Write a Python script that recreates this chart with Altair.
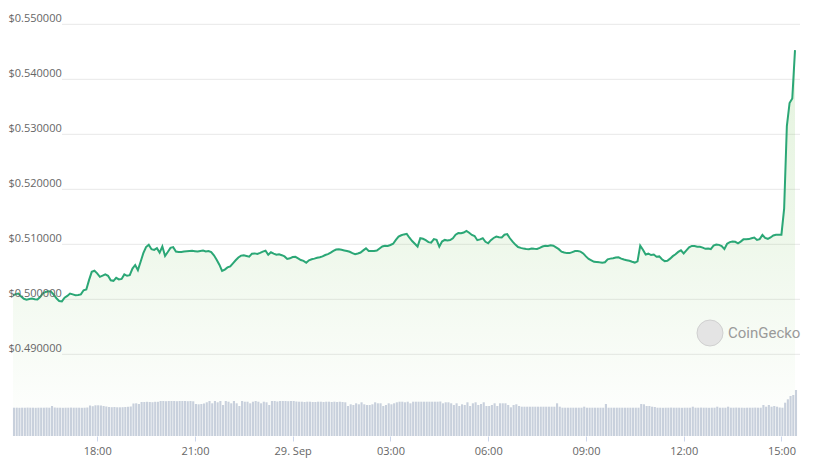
import altair as alt
import pandas as pd

# ---------------- data ----------------
START = "2023-09-28 15:25:00"   # first sample (UTC), 5-minute steps
STEP_MINUTES = 5

price = [
    0.50073, 0.50095, 0.50105, 0.50050, 0.50010, 0.49994, 0.50005, 0.50013, 0.50000, 0.49998,
    0.50042, 0.50110, 0.50134, 0.50147, 0.50140, 0.50085, 0.50020, 0.49970, 0.49963, 0.50030,
    0.50061, 0.50105, 0.50090, 0.50075, 0.50080, 0.50090, 0.50165, 0.50178, 0.50349, 0.50500,
    0.50519, 0.50472, 0.50409, 0.50430, 0.50455, 0.50428, 0.50345, 0.50336, 0.50391, 0.50361,
    0.50370, 0.50453, 0.50428, 0.50440, 0.50560, 0.50624, 0.50530, 0.50684, 0.50839, 0.50950,
    0.50991, 0.50912, 0.50899, 0.50930, 0.50850, 0.50960, 0.50789, 0.50860, 0.50935, 0.50949,
    0.50868, 0.50860, 0.50862, 0.50870, 0.50875, 0.50878, 0.50881, 0.50875, 0.50868, 0.50880,
    0.50886,
    0.50870, 0.50877, 0.50860, 0.50800, 0.50720, 0.50630, 0.50515, 0.50540, 0.50580, 0.50600,
    0.50655, 0.50710, 0.50760, 0.50795, 0.50800, 0.50788, 0.50775, 0.50830, 0.50835, 0.50825,
    0.50845, 0.50868, 0.50883, 0.50810, 0.50855, 0.50830, 0.50810, 0.50820, 0.50802, 0.50780,
    0.50735, 0.50745, 0.50768, 0.50772, 0.50745, 0.50715, 0.50700, 0.50665, 0.50710, 0.50728,
    0.50740, 0.50755, 0.50765, 0.50780, 0.50805, 0.50821, 0.50848, 0.50880, 0.50905, 0.50912,
    0.50900, 0.50889, 0.50878, 0.50865, 0.50840, 0.50822, 0.50833, 0.50850, 0.50890, 0.50926,
    0.50880, 0.50877, 0.50877, 0.50888, 0.50925, 0.50960, 0.50972, 0.50970, 0.50988, 0.51010,
    0.51080, 0.51140, 0.51165, 0.51180, 0.51190, 0.51120, 0.51060, 0.51010, 0.50960, 0.51110,
    0.51100, 0.51075, 0.51040, 0.51030, 0.51095, 0.51080, 0.50957, 0.51050, 0.51080, 0.51070,
    0.51078, 0.51110, 0.51175, 0.51204, 0.51200, 0.51215, 0.51245, 0.51210, 0.51170, 0.51150,
    0.51075, 0.51090, 0.51110, 0.51045, 0.51019, 0.51075, 0.51115, 0.51142, 0.51130, 0.51125,
    0.51175, 0.51185, 0.51110, 0.51050, 0.50995, 0.50950, 0.50935, 0.50922, 0.50914, 0.50912,
    0.50925, 0.50918, 0.50915, 0.50935, 0.50960, 0.50975, 0.50970, 0.50982, 0.50975, 0.50945,
    0.50912, 0.50866, 0.50850, 0.50840, 0.50840, 0.50858, 0.50877, 0.50877, 0.50868, 0.50835,
    0.50780, 0.50735, 0.50710, 0.50682, 0.50679, 0.50672, 0.50667, 0.50675, 0.50728, 0.50740,
    0.50748, 0.50760, 0.50765, 0.50740, 0.50724, 0.50712, 0.50700, 0.50682, 0.50668, 0.50690,
    0.50975, 0.50900, 0.50815, 0.50830, 0.50805, 0.50815, 0.50775, 0.50780, 0.50728, 0.50695,
    0.50700, 0.50740, 0.50785, 0.50818, 0.50862, 0.50890, 0.50835, 0.50890, 0.50945, 0.50970,
    0.50968, 0.50955, 0.50957, 0.50940, 0.50918, 0.50924, 0.50914, 0.50975, 0.50995, 0.50990,
    0.50970, 0.50914, 0.51010, 0.51040, 0.51049, 0.51045, 0.51019, 0.51049, 0.51090, 0.51090,
    0.51095, 0.51111, 0.51123, 0.51080, 0.51095, 0.51170, 0.51115, 0.51100, 0.51125, 0.51160,
    0.51173, 0.51173, 0.51175, 0.51650, 0.53150, 0.53570, 0.53650, 0.54530,
]

volume = [
    2.83, 2.83, 2.82, 2.83, 2.83, 2.84, 2.83, 2.83, 2.82, 2.83, 2.83, 2.83, 2.84, 2.83,
    3.00, 2.85, 2.83, 2.83, 2.82, 2.83, 2.83, 2.84, 2.83, 2.83, 2.83, 2.82, 2.83, 2.85,
    3.05, 2.98, 3.07, 3.07, 3.05, 3.00, 2.95, 2.90, 2.88, 2.90,
    2.87, 2.87, 2.88, 2.90, 2.92, 2.95,
    3.25, 3.27, 3.20,
    3.40, 3.40, 3.42, 3.40, 3.38, 3.42, 3.42,
    3.50, 3.50, 3.48, 3.50, 3.50, 3.50, 3.48, 3.50, 3.50, 3.50, 3.48, 3.50, 3.47,
    3.20, 3.17, 3.20, 3.25,
    3.37, 3.50, 3.27, 3.50, 3.37, 3.50, 3.10, 3.50, 3.43, 3.27, 3.50, 3.27, 3.00, 3.50,
    3.43, 3.43, 3.27, 3.43, 3.50, 3.43, 3.27, 3.43, 3.37, 3.10, 3.50, 3.50, 3.45, 3.50,
    3.50, 3.50, 3.48, 3.50, 3.50, 3.45, 3.43, 3.43, 3.40, 3.43, 3.43, 3.40, 3.40, 3.43,
    3.43, 3.40, 3.43, 3.43, 3.40, 3.43, 3.40, 3.43, 3.40, 3.37,
    3.00, 3.17, 3.10, 3.27, 3.17, 3.37, 3.17, 3.10, 3.10, 3.17, 3.37, 3.27, 3.27, 3.00,
    3.10, 3.27, 3.17,
    3.27, 3.37, 3.43, 3.43, 3.37, 3.43, 3.27, 3.43, 3.43, 3.43, 3.43, 3.43, 3.43, 3.43,
    3.43, 3.43, 3.43, 3.45, 3.27, 3.37,
    3.37, 3.27, 3.10, 3.27, 3.00, 3.17, 3.10, 3.37, 3.00, 3.27, 3.37, 3.10, 3.20, 3.37,
    3.00, 3.00, 3.10, 3.27, 3.00, 3.27, 3.27, 3.27, 3.10, 2.87, 3.10, 3.17, 3.00, 2.93,
    2.93, 2.93, 2.93, 2.93, 2.93, 2.93, 2.93, 2.93, 2.93, 2.93, 2.93, 2.93, 3.27, 2.93,
    2.83, 2.83, 2.83, 2.83, 2.83, 2.83, 2.83, 2.83, 2.93, 2.83, 2.83, 2.83, 2.83, 2.83,
    2.83, 2.83, 3.20, 2.83, 2.83, 2.83, 2.83, 2.83, 2.83, 2.83, 2.83, 2.83, 2.83, 2.83, 2.83,
    3.20, 3.17, 3.00, 3.00, 2.93, 2.90,
    2.83, 2.83, 2.82, 2.83, 2.83, 2.84, 2.83, 2.83, 2.83, 2.82, 2.83, 2.83, 2.83, 2.93,
    2.83, 2.83, 2.84, 2.83, 2.83, 2.82, 2.83, 2.83, 2.93, 2.83, 2.83, 2.83, 2.93,
    2.83, 2.83, 2.84, 2.83, 2.83, 2.82, 2.83, 2.83, 2.83, 2.84, 2.83, 2.83,
    3.10, 2.93, 3.10, 2.93, 3.00, 2.93, 2.85,
    2.83, 3.33, 3.67, 4.00, 4.10, 4.60,
]

price_ticks = [0.49, 0.50, 0.51, 0.52, 0.53, 0.54, 0.55]
time_ticks = ["2023-09-28 18:00", "2023-09-28 21:00", "2023-09-29 00:00", "2023-09-29 03:00",
              "2023-09-29 06:00", "2023-09-29 09:00", "2023-09-29 12:00", "2023-09-29 15:00"]
watermark = ["CoinGecko"]

# ---------------- build tables ----------------
def stamps(n):
    t0 = pd.Timestamp(START, tz="UTC")
    return [int((t0 + pd.Timedelta(minutes=STEP_MINUTES * k)).timestamp() * 1000) for k in range(n)]

price_df = pd.DataFrame({"t": stamps(len(price)), "price": price})
vol_df = pd.DataFrame({"t": stamps(len(volume)), "volume": volume})
grid_df = pd.DataFrame({"g": price_ticks})
tick_ms = [int(pd.Timestamp(s, tz="UTC").timestamp() * 1000) for s in time_ticks]

PRICE_DOMAIN = [0.47515, 0.55442]
x_scale = alt.Scale(type="utc", domain=[price_df.t.iloc[0], price_df.t.iloc[-1]], nice=False)
x_axis = alt.Axis(
    values=tick_ms,
    labelExpr="utchours(datum.value) == 0 ? utcFormat(datum.value, '%-d. %b') : utcFormat(datum.value, '%H:%M')",
    title=None, grid=False, domain=False, ticks=True, tickSize=5, tickColor="#ccd6eb",
    labelColor="#666666", labelFontSize=11, labelFont="Open Sans", labelPadding=4,
    labelFlush=False, labelOverlap=False, zindex=1,
)
y_scale = alt.Scale(domain=PRICE_DOMAIN, nice=False, zero=False)
y_axis = alt.Axis(
    values=price_ticks, labelExpr="'$' + format(datum.value, '.6f')",
    title=None, grid=False, domain=False, ticks=False, tickSize=0,
    labelAlign="left", labelBaseline="alphabetic", labelOffset=-3, labelPadding=0,
    labelColor="#666666", labelFontSize=11, labelFont="Open Sans",
    labelOverlap=False, labelFlush=False, zindex=1,
)

X = alt.X("t:T", scale=x_scale, axis=x_axis)

grid = alt.Chart(grid_df).mark_rule(color="#e8e8e8", strokeWidth=1).encode(
    y=alt.Y("g:Q", scale=y_scale, axis=y_axis),
    x=alt.value(54), x2=alt.value(792),
)

area = alt.Chart(price_df).mark_area(
    color=alt.Gradient(
        gradient="linear", x1=0, x2=0, y1=0, y2=1,
        stops=[alt.GradientStop(color="rgba(120,195,90,0.20)", offset=0),
               alt.GradientStop(color="rgba(120,195,90,0.12)", offset=0.5),
               alt.GradientStop(color="rgba(120,195,90,0.0)", offset=1)],
    )
).encode(
    x=X,
    y=alt.Y("price:Q", scale=y_scale, axis=y_axis),
    y2=alt.datum(PRICE_DOMAIN[0]),
)

line = alt.Chart(price_df).mark_line(color="#2ba776", strokeWidth=2).encode(
    x=X,
    y=alt.Y("price:Q", scale=y_scale, axis=y_axis),
)

price_layer = alt.layer(grid, area, line)

bars = alt.Chart(vol_df).mark_bar(color="#c8d0dc", width=2.1, xOffset=1).encode(
    x=X,
    y=alt.Y("volume:Q", scale=alt.Scale(domain=[0, 43.6], nice=False), axis=None),
)

logo = alt.Chart(pd.DataFrame({"k": [1]})).mark_point(
    shape="circle", filled=True, size=676, color="#e4e4e4", stroke="#d0d0d0", strokeWidth=1, opacity=1
).encode(x=alt.value(702), y=alt.value(333))

logo_text = alt.Chart(pd.DataFrame({"label": watermark})).mark_text(
    align="left", baseline="middle", fontSize=15, font="Roboto", color="#9a9a9a"
).encode(x=alt.value(720), y=alt.value(333), text="label:N")

chart = alt.layer(price_layer, bars, logo, logo_text).resolve_scale(y="independent").properties(
    width=792, height=436,
    autosize=alt.AutoSizeParams(type="none"),
    padding={"left": 8, "top": 0, "right": 22, "bottom": 31},
    background="white",
).configure_view(stroke=None)

chart.save("out.html", embed_options={"renderer": "svg", "actions": False})
